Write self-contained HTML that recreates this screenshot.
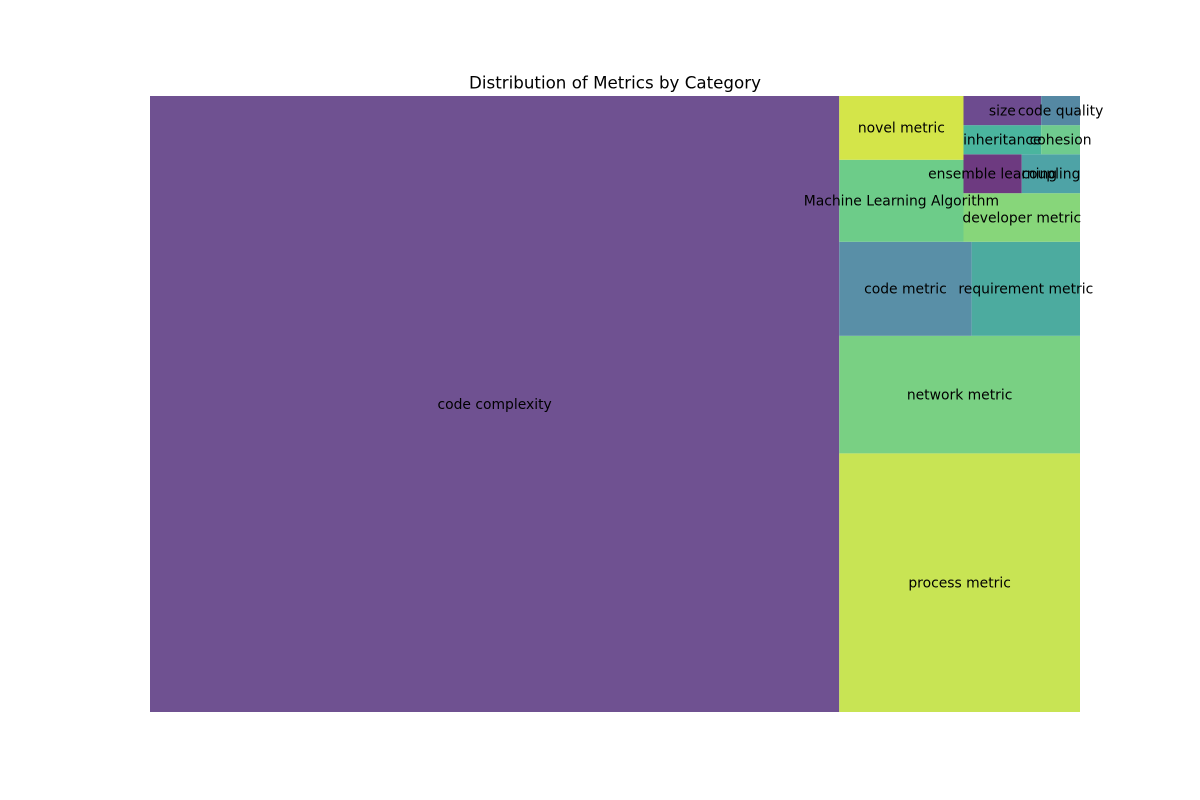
<!DOCTYPE html>
<html><head><meta charset="utf-8"><style>
html,body{margin:0;padding:0;background:#fff;}
svg{display:block;font-family:"DejaVu Sans","Liberation Sans",sans-serif;}
</style></head><body>
<svg id="chart" width="1200" height="800">
<text x="615" y="88.5" text-anchor="middle" font-size="16.7" fill="#000">Distribution of Metrics by Category</text>
<g id="cells"></g><g id="labels"></g>
</svg>
<script>
const categories = ["code complexity","process metric","network metric","code metric","requirement metric","Machine Learning Algorithm","novel metric","developer metric","ensemble learning","coupling","inheritance","size","cohesion","code quality"];
const counts = [375,55,25,11,9,9,7,5,2,2,2,2,1,1];
const colors = ["#6f5191","#c8e454","#79d083","#598fa7","#4cab9f","#6dcc89","#d4e549","#87d67a","#6d3a80","#4ea3a6","#4ab59e","#6d4b8f","#6fcb8e","#5588a3"];

const X0=150, Y0=96, W=930, H=616, N=100;
function layoutrow(s,x,y,dx,dy){const a=s.reduce((p,c)=>p+c,0),w=a/dy;const r=[];for(const v of s){r.push({x:x,y:y,dx:w,dy:v/w});y+=v/w;}return r;}
function layoutcol(s,x,y,dx,dy){const a=s.reduce((p,c)=>p+c,0),h=a/dx;const r=[];for(const v of s){r.push({x:x,y:y,dx:v/h,dy:h});x+=v/h;}return r;}
function layout(s,x,y,dx,dy){return dx>=dy?layoutrow(s,x,y,dx,dy):layoutcol(s,x,y,dx,dy);}
function leftover(s,x,y,dx,dy){const a=s.reduce((p,c)=>p+c,0);if(dx>=dy){const w=a/dy;return [x+w,y,dx-w,dy];}const h=a/dx;return [x,y+h,dx,dy-h];}
function worst(s,x,y,dx,dy){return Math.max(...layout(s,x,y,dx,dy).map(r=>Math.max(r.dx/r.dy,r.dy/r.dx)));}
function squarify(s,x,y,dx,dy){
  if(!s.length)return [];
  if(s.length===1)return layout(s,x,y,dx,dy);
  let i=1;
  while(i<s.length&&worst(s.slice(0,i),x,y,dx,dy)>=worst(s.slice(0,i+1),x,y,dx,dy))i++;
  const cur=s.slice(0,i),rem=s.slice(i);const l=leftover(cur,x,y,dx,dy);
  return layout(cur,x,y,dx,dy).concat(squarify(rem,l[0],l[1],l[2],l[3]));
}
const tot=counts.reduce((p,c)=>p+c,0);
const norm=counts.map(v=>v*N*N/tot);
const rects=squarify(norm,0,0,N,N);
const ns="http://www.w3.org/2000/svg";
const gc=document.getElementById('cells'),gl=document.getElementById('labels');
rects.forEach((r,i)=>{
  const px=X0+r.x/N*W, pw=r.dx/N*W, ph=r.dy/N*H, py=Y0+H-(r.y/N*H)-ph;
  const re=document.createElementNS(ns,'rect');
  re.setAttribute('x',px);re.setAttribute('y',py);re.setAttribute('width',pw);re.setAttribute('height',ph);
  re.setAttribute('fill',colors[i]);
  
  
  gc.appendChild(re);
  const t=document.createElementNS(ns,'text');
  t.setAttribute('x',px+pw/2);t.setAttribute('y',py+ph/2+4.8);
  t.setAttribute('text-anchor','middle');t.setAttribute('font-size','13.9');t.setAttribute('fill','#000');
  t.textContent=categories[i];
  
  
  gl.appendChild(t);
});
</script>
</body></html>
